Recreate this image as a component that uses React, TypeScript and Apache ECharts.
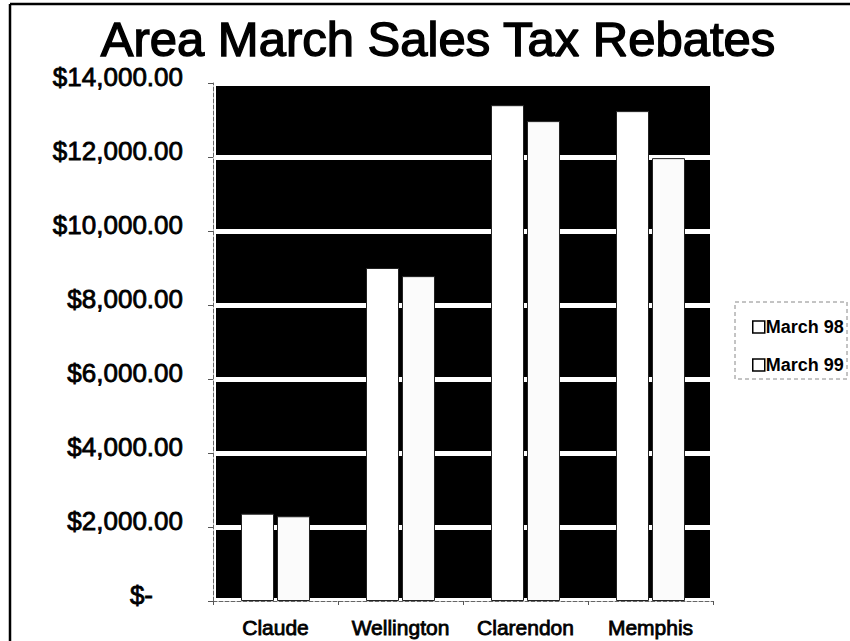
import React, { useEffect, useRef } from "react";
import * as echarts from "echarts";

const categories = ["Claude", "Wellington", "Clarendon", "Memphis"];
const march98 = [2360, 9000, 13400, 13240];
const march99 = [2290, 8780, 12970, 11970];
const seriesNames = ["March 98", "March 99"];
const yMin = 0;
const yMax = 14000;
const yStep = 2000;
const titleText = "Area March Sales Tax Rebates";

const FONT = "'Liberation Sans', Arial, Helvetica, sans-serif";

function fmtMoney(v: number): string {
  if (v === 0) return "{z|$-}";
  return (
    "$" +
    v.toLocaleString("en-US", { minimumFractionDigits: 2, maximumFractionDigits: 2 })
  );
}

export default function App() {
  const ref = useRef<HTMLDivElement>(null);

  useEffect(() => {
    if (!ref.current) return;
    const chart = echarts.init(ref.current, undefined, { renderer: "svg" });
    const option: any = {
      animation: false,
      backgroundColor: "#ffffff",
      title: {
        text: titleText,
        left: 433,
        textAlign: "center",
        top: 9,
        textStyle: {
          fontFamily: FONT,
          fontSize: 49,
          fontWeight: "normal",
          color: "#000",
          textBorderColor: "#000",
          textBorderWidth: 1.4,
        },
      },
      grid: {
        left: 213,
        right: 137,
        top: 83,
        bottom: 40,
        show: true,
        backgroundColor: "#000",
        borderColor: "#fff",
        borderWidth: 6,
      },
      legend: {
        orient: "vertical",
        left: 747,
        top: 313,
        itemGap: 20,
        itemWidth: 12,
        itemHeight: 12,
        icon: "rect",
        data: seriesNames,
        itemStyle: { color: "#fff", borderColor: "#000", borderWidth: 1.5 },
        textStyle: {
          fontFamily: FONT,
          fontSize: 18,
          fontWeight: "bold",
          color: "#000",
          padding: [0, 0, 0, -4],
        },
      },
      xAxis: {
        type: "category",
        data: categories,
        boundaryGap: true,
        axisLine: { show: true, lineStyle: { color: "#666", width: 1, type: "dashed" } },
        axisTick: { show: true, length: 4, lineStyle: { color: "#555" } },
        axisLabel: {
          interval: 0,
          margin: 16,
          fontFamily: FONT,
          fontSize: 21,
          color: "#000",
          textBorderColor: "#000",
          textBorderWidth: 0.8,
        },
        splitLine: { show: false },
      },
      yAxis: {
        type: "value",
        min: yMin,
        max: yMax,
        interval: yStep,
        axisLine: { show: true, lineStyle: { color: "#666", width: 1, type: "dashed" } },
        axisTick: { show: true, length: 5, lineStyle: { color: "#555" } },
        axisLabel: {
          margin: 30,
          fontFamily: FONT,
          fontSize: 26,
          color: "#000",
          textBorderColor: "#000",
          textBorderWidth: 0.8,
          padding: [0, 0, 12, 0],
          formatter: (v: number) => fmtMoney(v),
          rich: {
            z: {
              fontFamily: FONT,
              fontSize: 26,
              color: "#000",
              textBorderColor: "#000",
              textBorderWidth: 0.8,
              padding: [0, 30, 0, 0],
            },
          },
        },
        splitLine: { show: true, lineStyle: { color: "#fff", width: 5 } },
      },
      series: [
        {
          name: seriesNames[0],
          type: "bar",
          data: march98,
          barWidth: 33,
          barGap: "9%",
          itemStyle: { color: "#ffffff", borderColor: "#222", borderWidth: 1 },
        },
        {
          name: seriesNames[1],
          type: "bar",
          data: march99,
          barWidth: 33,
          itemStyle: { color: "#fbfbfb", borderColor: "#222", borderWidth: 1 },
        },
      ],
      graphic: [
        {
          type: "line",
          shape: { x1: 10, y1: 4, x2: 850, y2: 4 },
          style: { stroke: "#000", lineWidth: 2.5 },
        },
        {
          type: "line",
          shape: { x1: 10, y1: 4, x2: 10, y2: 641 },
          style: { stroke: "#000", lineWidth: 2.5 },
        },
        {
          type: "rect",
          shape: { x: 735, y: 302, width: 112, height: 77 },
          style: { fill: "none", stroke: "#888", lineWidth: 1, lineDash: [4, 3] },
        },
      ],
    };
    chart.setOption(option);
    return () => chart.dispose();
  }, []);

  return (
    <div
      ref={ref}
      style={{ position: "fixed", left: 0, top: 0, width: 850, height: 641 }}
    />
  );
}
